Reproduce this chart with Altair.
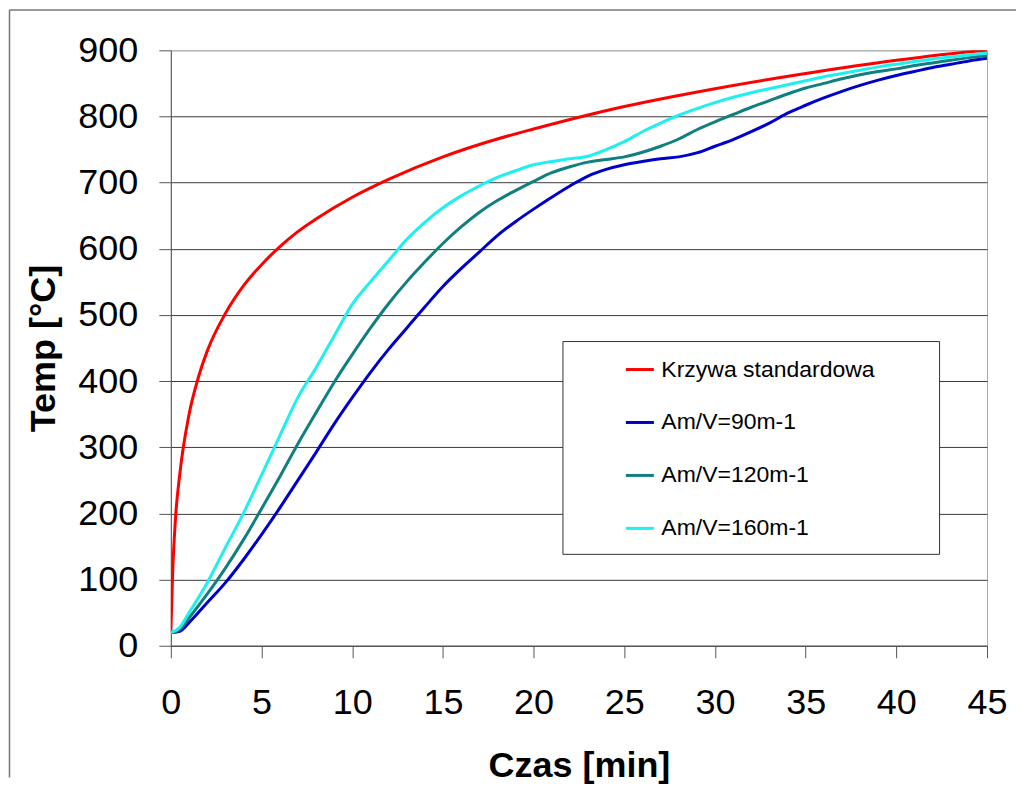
import altair as alt
import pandas as pd

# ---- data ----
series_names = ["Krzywa standardowa", "Am/V=90m-1", "Am/V=120m-1", "Am/V=160m-1"]
series_colors = ["#FF0000", "#0000CC", "#0F7F7F", "#1EF0F0"]

time_std = [0, 0.1, 0.25, 0.5, 1, 1.5, 2, 3, 4, 5, 6, 7, 8, 10, 12, 15, 18, 20, 25, 30, 35, 40, 43, 45]
temp_std = [20, 110, 190, 261, 349, 404, 445, 502, 544, 576, 603, 626, 645, 678, 705, 739, 766, 781, 815, 842, 865, 885, 895, 900]

time_am = [0, 0.5, 1, 2, 3, 4, 5, 6, 7, 8, 9, 10, 11, 12, 13, 14, 15, 16, 17, 18, 19, 20,
           21, 22, 23, 24, 25, 26, 27, 28, 29, 30, 31, 32, 33, 34, 35, 36, 37, 38, 39, 40,
           41, 42, 43, 44, 45]
temp_90 = [20, 22, 35, 65, 95, 130, 168, 208, 250, 292, 335, 375, 413, 448, 480, 512, 543, 570,
           595, 620, 641, 660, 678, 695, 710, 720, 727, 732, 736, 739, 745, 755, 765, 777, 790,
           805, 817, 828, 838, 847, 855, 862, 868, 874, 879, 884, 888]
temp_120 = [20, 25, 42, 78, 117, 160, 207, 255, 305, 352, 398, 440, 480, 517, 550, 580, 608, 633,
            655, 673, 688, 702, 715, 724, 731, 735, 739, 746, 755, 766, 780, 792, 803, 814, 824,
            834, 843, 850, 857, 863, 868, 872, 877, 881, 885, 889, 892]
temp_160 = [20, 28, 50, 95, 148, 200, 258, 317, 375, 420, 468, 516, 550, 582, 614, 640, 662, 680,
            695, 708, 718, 727, 732, 736, 740, 750, 762, 777, 790, 802, 812, 821, 829, 836, 842,
            848, 854, 860, 865, 870, 875, 879, 883, 887, 890, 893, 896]

x_ticks = [0, 5, 10, 15, 20, 25, 30, 35, 40, 45]
y_ticks = [0, 100, 200, 300, 400, 500, 600, 700, 800, 900]

rows = []
for t, v in zip(time_std, temp_std):
    rows.append({"t": t, "T": v, "series": series_names[0]})
for name, vals in zip(series_names[1:], [temp_90, temp_120, temp_160]):
    for t, v in zip(time_am, vals):
        rows.append({"t": t, "T": v, "series": name})
df = pd.DataFrame(rows)

FONT = "Liberation Sans"
pad_tail = "\u00a0" * 8 + "\u200b"

lines = alt.Chart(df).mark_line(strokeWidth=3, clip=True, interpolate="monotone").encode(
    x=alt.X("t:Q", scale=alt.Scale(domain=[0, 45], nice=False),
            axis=alt.Axis(values=x_ticks, title="Czas [min]", grid=False,
                          labelFontSize=36, labelFont=FONT, labelColor="black",
                          labelPadding=28, tickSize=12, tickColor="#555",
                          domainColor="#555", titleFont=FONT, titleFontSize=36,
                          titleFontWeight="bold", titleColor="black", titlePadding=28,
                          labelFlush=False)),
    y=alt.Y("T:Q", scale=alt.Scale(domain=[0, 900], nice=False),
            axis=alt.Axis(values=y_ticks, title="Temp [°C]", grid=True,
                          gridColor=alt.condition("datum.value == 900", alt.value("#b0b0b0"), alt.value("#3a3a3a")),
                          gridWidth=1,
                          labelFontSize=36, labelFont=FONT, labelColor="black",
                          labelPadding=21, tickSize=12, tickColor="#555",
                          domainColor="#555", titleFont=FONT, titleFontSize=36,
                          titleFontWeight="bold", titleColor="black", titlePadding=15,
                          labelFlush=False)),
    color=alt.Color("series:N",
                    scale=alt.Scale(domain=series_names, range=series_colors),
                    legend=alt.Legend(title=None, orient="none", legendX=392, legendY=291,
                                      direction="vertical", symbolType="stroke",
                                      symbolSize=784, symbolStrokeWidth=3,
                                      labelFont=FONT, labelFontSize=23, labelColor="black",
                                      labelOffset=6, labelLimit=600,
                                      padding=13, rowPadding=25, symbolOffset=49,
                                      strokeColor="#333333", fillColor="white",
                                      labelExpr="datum.label + '" + pad_tail + "'")),
)

frame_df = pd.DataFrame({"k": [0]})
frame_left = alt.Chart(frame_df).mark_rule(color="#777777", strokeWidth=1.5).encode(
    x=alt.value(-161.5), y=alt.value(-40.5), y2=alt.value(728))
frame_top = alt.Chart(frame_df).mark_rule(color="#777777", strokeWidth=1.5).encode(
    x=alt.value(-161.5), x2=alt.value(846), y=alt.value(-40.5))

chart = alt.layer(frame_left, frame_top, lines).properties(
    width=817, height=596, padding=0
).configure_view(stroke="#aaaaaa", strokeWidth=1)

chart.save("out.html", embed_options={"renderer": "svg", "actions": False})
